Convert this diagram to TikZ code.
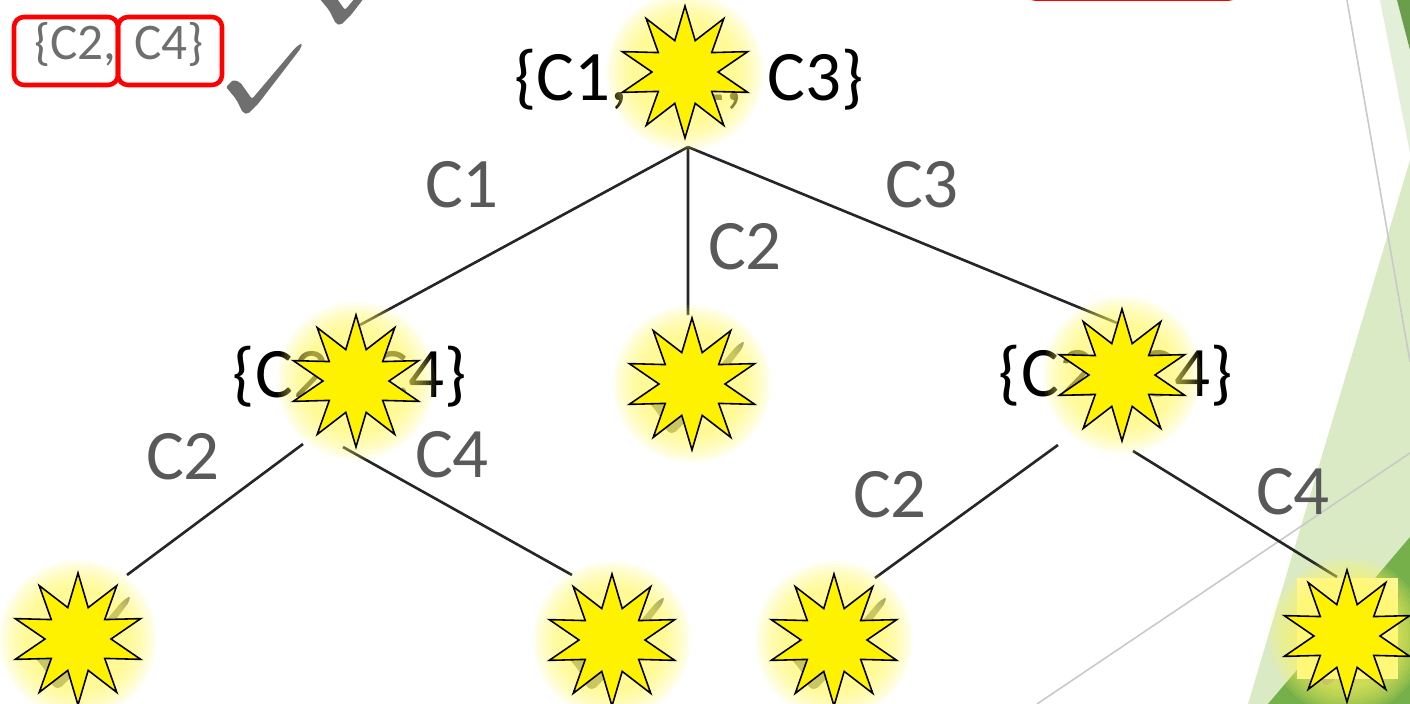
\documentclass[tikz,border=0pt]{standalone}
\usepackage{fontspec}
\setmainfont{Carlito}[WordSpace=1.5]
\usetikzlibrary{shapes.geometric,positioning}

\pgfdeclarelayer{back}
\pgfdeclarelayer{lower}
\pgfdeclarelayer{haze}
\pgfsetlayers{back,lower,haze,main}

\definecolor{labelgray}{HTML}{595959}
\definecolor{setgray}{HTML}{6E6E6E}
\definecolor{tickgray}{HTML}{6F6F6F}
\definecolor{branchcol}{HTML}{262626}
\definecolor{paleleaf}{HTML}{E3EFD8}
\definecolor{lightleaf}{HTML}{DAEAC5}
\definecolor{darkleaf}{HTML}{76B04A}
\definecolor{deepleaf}{HTML}{6A9E4C}
\definecolor{rimline}{HTML}{C9C9C9}

\tikzset{
  burst/.style={star, star points=10, star point ratio=2, minimum size=1.32cm,
    inner sep=0pt, draw=black, line width=0.45pt, fill=yellow},
  setlabel/.style={font=\fontsize{20.2}{24}\selectfont, anchor=base, inner sep=0pt},
  edgelabel/.style={setlabel, text=labelgray},
  branch/.style={draw=branchcol, line width=0.75pt},
  pickbox/.style={draw=red, line width=1.3pt, rounded corners=1mm},
  halo/.pic={
    \foreach \r in {0.79,0.76,...,0.50}
      \fill[yellow!62, opacity=0.1] (0,0) circle (\r);
  },
  checkmark/.pic={
    \fill[tickgray, rounded corners=0.6pt] (-19,26) -- (-12,33) -- (-5,31) -- (7,14)
      -- (51,66) -- (57,70) -- (56,65) -- (13,9) -- (3,-1) -- (-2,0) -- (-9,14) -- cycle;
  }
}

\begin{document}
\begin{tikzpicture}[on grid]
\useasboundingbox (0,0) rectangle (14.1,7.04);

% the stars
\node[burst] (root) at (6.85,6.32) {};
\node[burst] (left) [below left=3.09cm and 3.29cm of root] {};
\node[burst] (mid) [below right=3.12cm and 0.07cm of root] {};
\node[burst] (right) [below right=3.03cm and 4.37cm of root] {};
\node[burst] (leafa) [below left=2.58cm and 2.78cm of left] {};
\node[burst] (leafb) [below right=2.59cm and 2.56cm of left] {};
\node[burst] (leafc) [below left=2.65cm and 2.88cm of right] {};
\node[burst] (leafd) [below right=2.61cm and 2.25cm of right] {};

% branch labels
\node[edgelabel] (lc1) at (4.62,4.96) {C1};
\node[edgelabel] (lc2) at (7.45,4.34) {C2};
\node[edgelabel] (lc3) at (9.22,4.96) {C3};
\node[edgelabel] (llc2) at (1.83,2.24) {C2};
\node[edgelabel] (llc4) at (4.52,2.26) {C4};
\node[edgelabel] (rlc2) at (8.90,1.86) {C2};
\node[edgelabel] (rlc4) at (12.93,1.89) {C4};

% chosen set, top left
\node[setlabel, font=\fontsize{14.6}{17}\selectfont, text=setgray] (picked) at (1.19,6.44) {\{C2, C4\}};
\draw[pickbox] (0.14,6.19) rectangle (1.18,6.87);
\draw[pickbox] (1.18,6.19) rectangle (2.22,6.87);

\begin{pgfonlayer}{back}
  \fill[paleleaf] (13.80,7.04) -- (14.10,7.04) -- (14.10,5.51) -- cycle;
  \fill[deepleaf] (13.97,7.04) -- (14.10,7.04) -- (14.10,6.54) -- cycle;
  \fill[lightleaf] (14.10,5.44) -- (14.10,0) -- (12.48,0) -- cycle;
  \fill[darkleaf] (14.10,1.67) -- (14.10,0) -- (12.68,0) -- cycle;
  \draw[rimline, line width=0.45pt] (13.47,7.04) -- (14.10,3.42);
  \draw[rimline, line width=0.45pt] (10.37,0) -- (14.10,2.51);
  \begin{scope}
    \clip (0,0) rectangle (14.1,7.04);
    \draw[pickbox] (10.25,7.055) rectangle (12.39,7.6);
  \end{scope}
\end{pgfonlayer}

\begin{pgfonlayer}{lower}
  \node[setlabel] (rootset) at ([xshift=0.4mm,yshift=-2.9mm]root.center) {\{C1, C2, C3\}};
  \node[setlabel] (leftset) at ([xshift=-0.6mm,yshift=-1.7mm]left.center) {\{C2, C4\}};
  \node[setlabel] (rightset) at ([xshift=-0.6mm,yshift=-2.2mm]right.center) {\{C2, C4\}};

  \coordinate (fork) at ([xshift=0.3mm,yshift=-7.5mm]root.center);
  \draw[branch] (fork) -- ([xshift=0.4mm,yshift=5.6mm]left.center);
  \draw[branch] (fork) -- ([xshift=-0.4mm]mid.north);
  \draw[branch] (fork) -- ([xshift=-0.5mm,yshift=5.2mm]right.center);
  \draw[branch] ([xshift=-5.3mm,yshift=-6.3mm]left.center) -- ([xshift=4.9mm,yshift=6.4mm]leafa.center);
  \draw[branch] ([xshift=-1.3mm,yshift=-6.6mm]left.center) -- ([xshift=-4mm,yshift=6.5mm]leafb.center);
  \draw[branch] ([xshift=-6.4mm,yshift=-7mm]right.center) -- ([xshift=4.1mm,yshift=6.2mm]leafc.center);
  \draw[branch] ([xshift=1.1mm,yshift=-7.6mm]right.center) -- ([xshift=-1mm,yshift=5.9mm]leafd.center);

  % ticks
  \pic[scale=0.01] at (2.45,5.91) {checkmark};
  \begin{scope}
    \clip (0,0) rectangle (14.1,7.04);
    \pic[scale=0.01] at (3.38,6.80) {checkmark};
  \end{scope}
  \foreach \s in {mid,leafa,leafb,leafc,leafd}
    \pic[scale=0.013] at ([xshift=-2.2mm,yshift=-4.8mm]\s.center) {checkmark};
\end{pgfonlayer}

\begin{pgfonlayer}{haze}
  \fill[yellow!35] (12.97,0.25) rectangle (13.98,1.26);
  \foreach \s in {root,left,mid,right,leafa,leafb,leafc,leafd}
    \pic at (\s.center) {halo};
\end{pgfonlayer}
\end{tikzpicture}
\end{document}
